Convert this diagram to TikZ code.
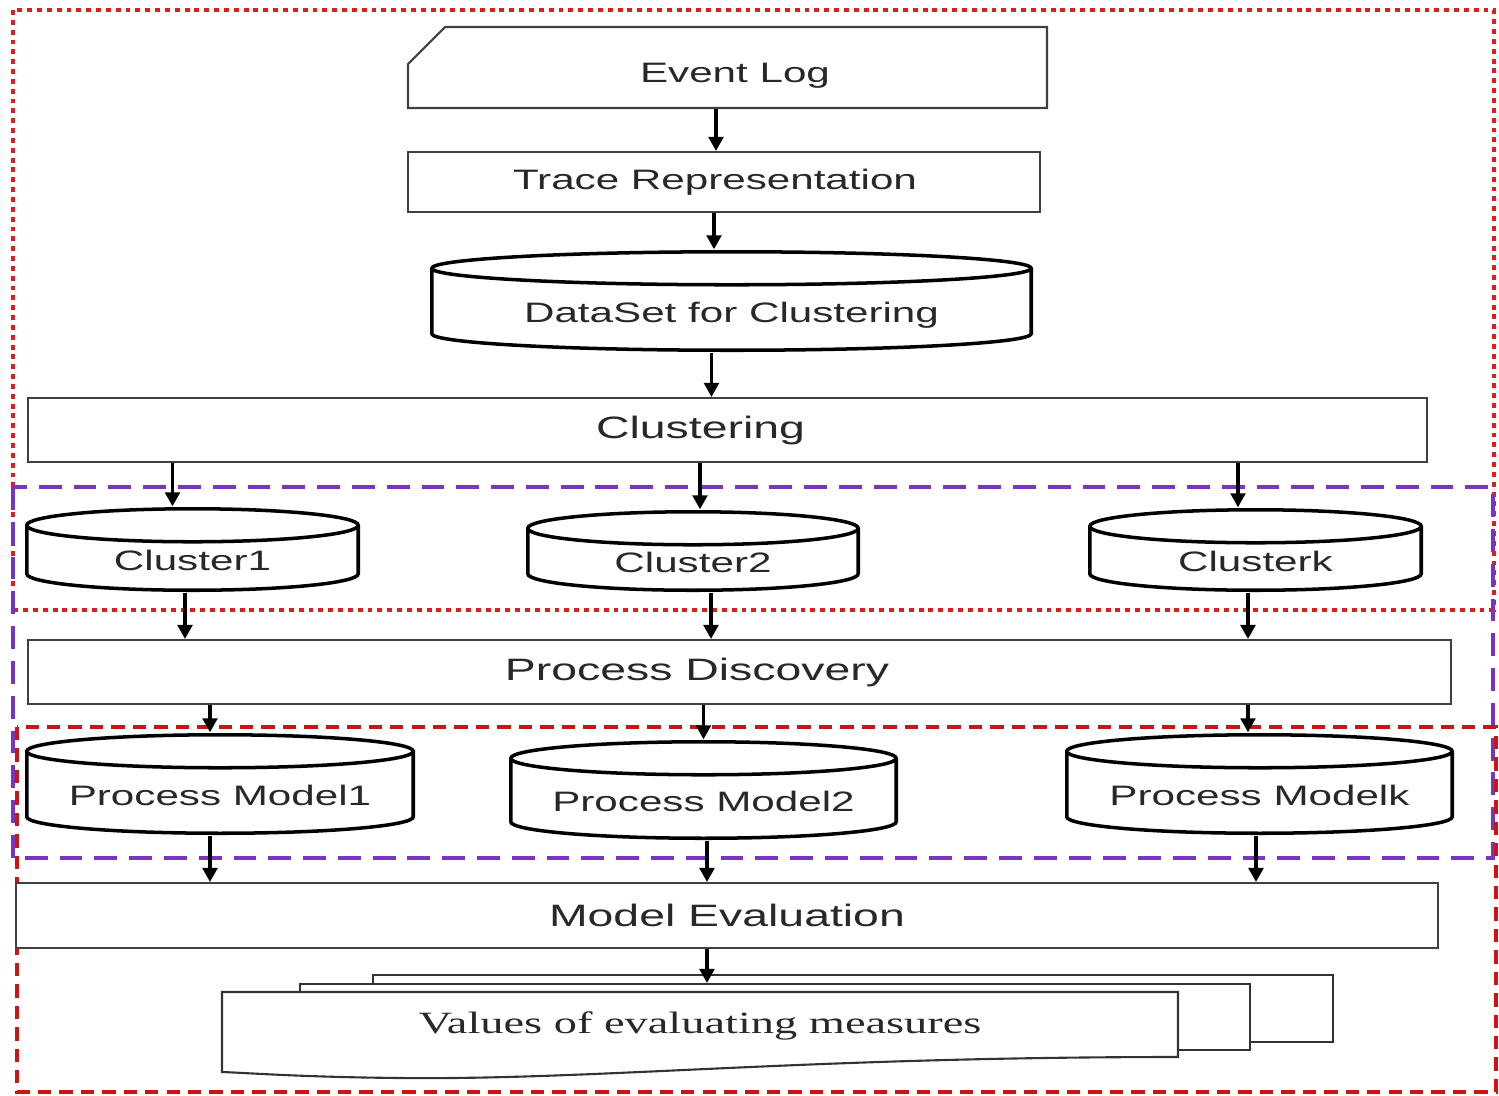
\documentclass[tikz,border=0pt]{standalone}
\usepackage{fontspec}
\setmainfont{Liberation Sans}
\newfontfamily\boxfont[FakeStretch=1.5]{Liberation Sans}
\newfontfamily\docfont[FakeStretch=1.5]{Liberation Serif}
\usetikzlibrary{shapes.geometric, shapes.misc, arrows.meta, positioning, calc}
\definecolor{frred}{RGB}{222,30,30}
\definecolor{frdash}{RGB}{205,20,20}
\definecolor{frpurple}{RGB}{122,52,192}
\definecolor{txtgray}{RGB}{40,40,40}
\tikzset{
    stepbox/.style={draw=black!75, line width=0.6pt, fill=white, text=txtgray, font=\boxfont\fontsize{8}{9}\selectfont, minimum width=#1},
    widebox/.style={stepbox=#1, font=\boxfont\fontsize{8.8}{10}\selectfont},
    dbcyl/.style 2 args={minimum width=#1, minimum height=#2, inner sep=0pt, fill=white, text=txtgray, font=\boxfont\fontsize{8}{9}\selectfont, text height=12pt, text depth=0pt,
        path picture={
            \draw[line width=1pt, black]
                let \p1=(path picture bounding box.north west), \p2=(path picture bounding box.south east)
                in ({\x1+0.5pt},{\y1-0.5pt-1.65mm}) -- ({\x1+0.5pt},{\y2+0.5pt+1.65mm})
                arc[start angle=180, end angle=360, x radius={0.5*(\x2-\x1)-0.5pt}, y radius=1.65mm]
                -- ({\x2-0.5pt},{\y1-0.5pt-1.65mm})
                ({0.5*(\x1+\x2)},{\y1-0.5pt-1.65mm}) ellipse[x radius={0.5*(\x2-\x1)-0.5pt}, y radius=1.65mm];
        }},
    docpage/.style={draw=black!80, line width=0.6pt, fill=white},
    arr/.style={-{Triangle[length=4pt, width=4.2pt]}, line width=0.9pt, black},
}

\begin{document}
\begin{tikzpicture}[x=0.1mm, y=-0.1mm]
\useasboundingbox (0,0) rectangle (1499,1095);
% frames
\draw[frred, line width=1pt, dash pattern=on 1.4pt off 1.4pt] (13,10) rectangle (1494,610);
\draw[frpurple, line width=1pt, dash pattern=on 6.5pt off 3.4pt] (13,487) rectangle (1493,858);
\draw[frdash, line width=1pt, dash pattern=on 3.8pt off 2.3pt] (17,727) rectangle (1496,1092);
% top chain
\node[stepbox=63.9mm, chamfered rectangle, chamfered rectangle corners=north west, chamfered rectangle xsep=2.4mm, chamfered rectangle ysep=1.3mm, minimum height=8.1mm, text height=8.3pt, text depth=0pt] (evlog) at (727.5,67.5) {\hspace*{1.5mm}Event Log};
\node[stepbox=63.2mm, minimum height=6mm] (trace) at (724,182) {\hspace*{-1.8mm}Trace Representation};
\node[dbcyl={60.3mm}{10.2mm}] (dset) at (731.5,301) {DataSet for Clustering};
\node[widebox=139.9mm, minimum height=6.4mm] (clu) at (727.5,430) {\hspace*{-5.4mm}Clustering};
% clusters
\node[dbcyl={33.5mm}{8.5mm}] (c1) at (192.5,549.5) {Cluster1};
\node[dbcyl={33.4mm}{8.2mm}] (c2) at (693,551) {Cluster2};
\node[dbcyl={33.5mm}{8.4mm}] (ck) at (1255.5,550) {Clusterk};
\node[widebox=142.3mm, minimum height=6.4mm] (pdisc) at (739.5,672) {\hspace*{-8.5mm}Process Discovery};
% process models
\node[dbcyl={39mm}{10.2mm}] (pm1) at (220,784) {Process Model1};
\node[dbcyl={38.9mm}{10mm}] (pm2) at (703.5,790) {Process Model2};
\node[dbcyl={38.9mm}{10.2mm}] (pmk) at (1259.5,784) {Process Modelk};
\node[widebox=142.2mm, minimum height=6.5mm] (meval) at (727,915.5) {Model Evaluation};
% result documents
\node[docpage, minimum width=96mm, minimum height=6.7mm] (doc3) at (853,1008.5) {};
\node[docpage, minimum width=95mm, minimum height=6.6mm] (doc2) at (775,1017) {};
\draw[docpage] (222,992) -- (1178,992) -- (1178,1057) .. controls (800,1057) and (600,1080) .. (400,1078) .. controls (300,1077) and (250,1073) .. (222,1072) -- cycle;
\node[text=txtgray, font=\docfont\fontsize{8.8}{10}\selectfont] (vals) at (700,1026) {Values of evaluating measures};
% arrows
\draw[arr] ([xshift=-1.15mm]evlog.south) -- ([xshift=-1.15mm]evlog.south |- trace.north);
\draw[arr] ([xshift=-1mm]trace.south) -- ([xshift=-1mm]trace.south |- dset.north);
\draw[arr] ([xshift=-2mm]dset.south) -- ([xshift=-2mm]dset.south |- clu.north);
\draw[arr] ([xshift=-2mm]c1.north |- clu.south) -- ([xshift=-2mm]c1.north);
\draw[arr] ([xshift=0.7mm]c2.north |- clu.south) -- ([xshift=0.7mm]c2.north);
\draw[arr] ([xshift=-1.75mm]ck.north |- clu.south) -- ([xshift=-1.75mm]ck.north);
\draw[arr] ([xshift=-0.75mm]c1.south) -- ([xshift=-0.75mm]c1.south |- pdisc.north);
\draw[arr] ([xshift=1.8mm]c2.south) -- ([xshift=1.8mm]c2.south |- pdisc.north);
\draw[arr] ([xshift=-0.75mm]ck.south) -- ([xshift=-0.75mm]ck.south |- pdisc.north);
\draw[arr] ([xshift=-1mm]pm1.north |- pdisc.south) -- ([xshift=-1mm]pm1.north);
\draw[arr] (pm2.north |- pdisc.south) -- (pm2.north);
\draw[arr] ([xshift=-1.15mm]pmk.north |- pdisc.south) -- ([xshift=-1.15mm]pmk.north);
\draw[arr] ([xshift=-1mm]pm1.south) -- ([xshift=-1mm]pm1.south |- meval.north);
\draw[arr] ([xshift=0.35mm]pm2.south) -- ([xshift=0.35mm]pm2.south |- meval.north);
\draw[arr] ([xshift=-0.35mm]pmk.south) -- ([xshift=-0.35mm]pmk.south |- meval.north);
\draw[arr] ([xshift=-2mm]meval.south) -- ([xshift=-2mm]meval.south |- doc2.north);
\end{tikzpicture}
\end{document}
